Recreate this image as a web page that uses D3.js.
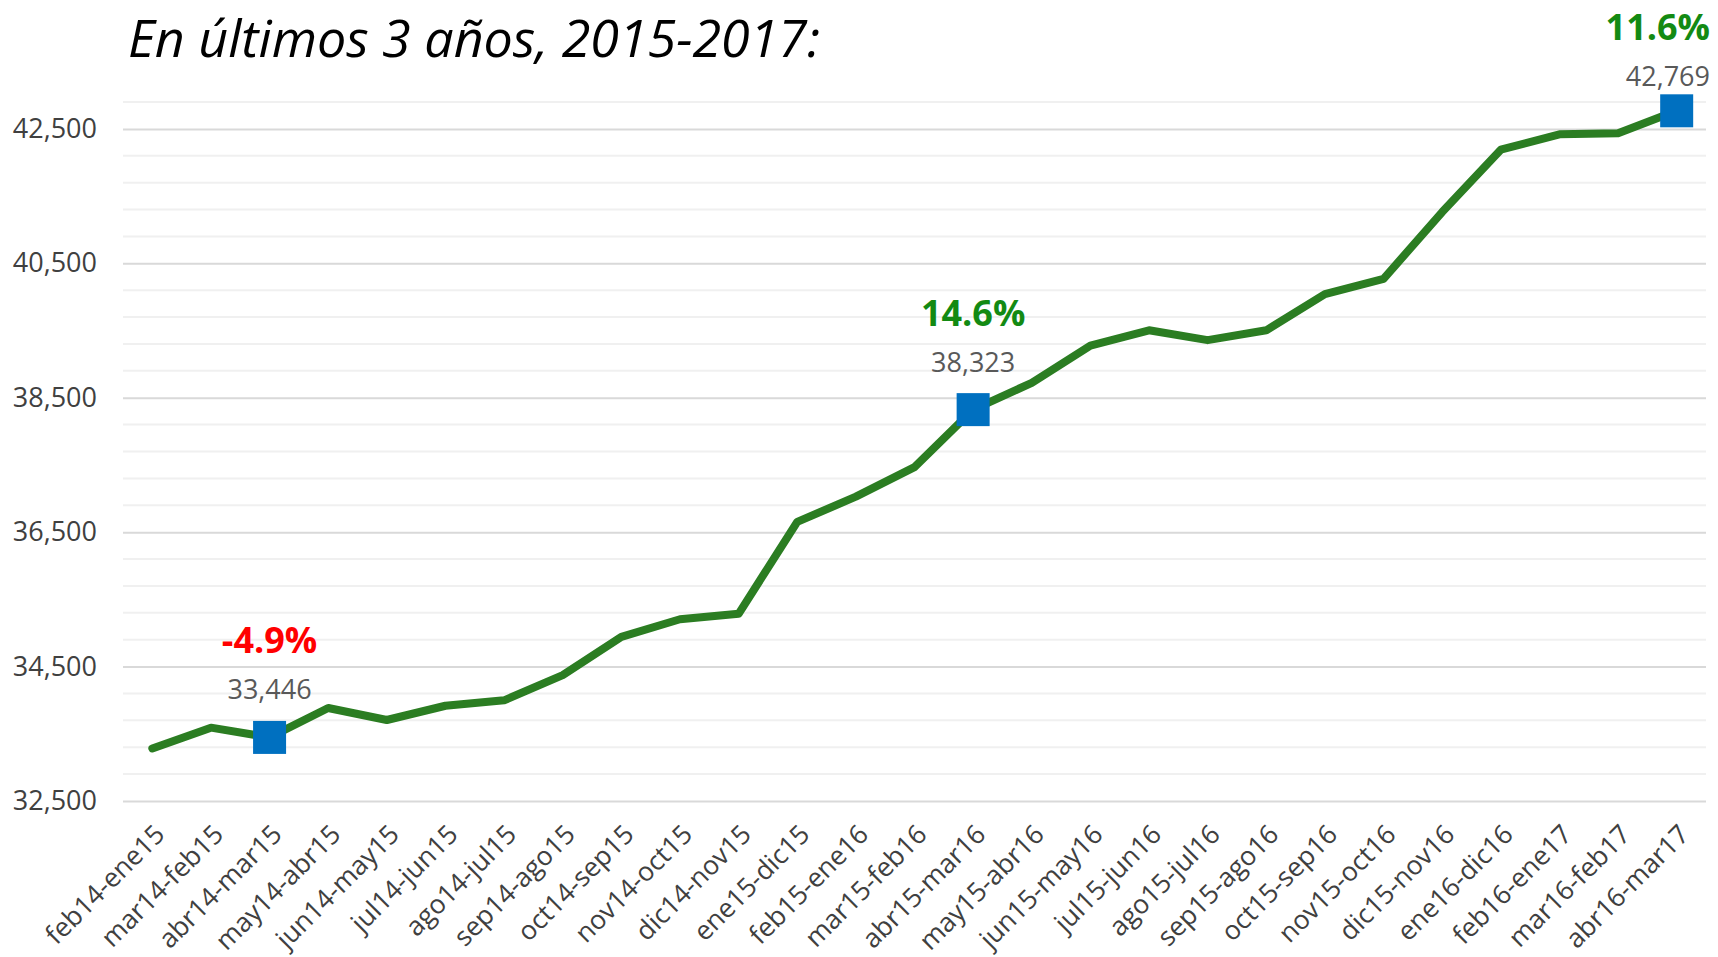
<!DOCTYPE html>
<html>
  <head>
    <meta charset="utf-8">
    <script src="https://cdn.jsdelivr.net/npm/d3@7"></script>
    <style>
      body { margin: 0; background: #fff; }
      svg { display: block; font-family: "Open Sans", sans-serif; }
    </style>
  </head>
  <body>
    <div id="vis"></div>
    <script type="text/javascript">

        const categories = [
          "feb14-ene15", "mar14-feb15", "abr14-mar15", "may14-abr15", "jun14-may15",
          "jul14-jun15", "ago14-jul15", "sep14-ago15", "oct14-sep15", "nov14-oct15",
          "dic14-nov15", "ene15-dic15", "feb15-ene16", "mar15-feb16", "abr15-mar16",
          "may15-abr16", "jun15-may16", "jul15-jun16", "ago15-jul16", "sep15-ago16",
          "oct15-sep16", "nov15-oct16", "dic15-nov16", "ene16-dic16", "feb16-ene17",
          "mar16-feb17", "abr16-mar17"
        ];

        const values = [
          33282, 33591, 33446, 33884, 33705,
          33917, 33998, 34373, 34943, 35204,
          35285, 36653, 37028, 37467, 38323,
          38722, 39275, 39503, 39357, 39503,
          40041, 40269, 41262, 42191, 42419,
          42435, 42769
        ];

        const yTicks = [32500, 34500, 36500, 38500, 40500, 42500];
        const yMinorTicks = d3.range(32500, 42901, 400);

        // highlighted points and the change over the previous 3 years
        const highlightIndex = [2, 14, 26];
        const highlightPct = ["-4.9%", "14.6%", "11.6%"];

        const title = "En últimos 3 años, 2015-2017:";

        const width = 1718, height = 957;
        const svg = d3.select("#vis").append("svg")
            .attr("width", width)
            .attr("height", height);

        const x = d3.scaleBand().domain(categories).range([123, 1706]);
        const y = d3.scaleLinear().domain([32500, 42900]).range([801, 102]);
        const cx = d => x(d) + x.bandwidth() / 2;
        const fmt = d3.format(",");

        // title
        svg.append("text")
            .attr("x", 128)
            .attr("y", 57)
            .attr("font-size", 52)
            .attr("font-style", "italic")
            .attr("fill", "#000")
            .attr("textLength", 692)
            .attr("lengthAdjust", "spacingAndGlyphs")
            .text(title);

        // minor grid
        svg.append("g")
            .selectAll("line")
            .data(yMinorTicks.filter(v => !yTicks.includes(v)))
            .enter().append("line")
            .attr("x1", 123).attr("x2", 1706)
            .attr("y1", d => y(d)).attr("y2", d => y(d))
            .attr("stroke", "#f0f0f0")
            .attr("stroke-width", 2);

        // major grid + y labels
        const yAxis = d3.axisLeft(y)
            .tickValues(yTicks)
            .tickFormat(fmt)
            .tickSize(-(1706 - 123))
            .tickPadding(26);
        const gy = svg.append("g")
            .attr("transform", "translate(123,0)")
            .call(yAxis);
        gy.select(".domain").remove();
        gy.selectAll(".tick line").attr("stroke", "#d9d9d9").attr("stroke-width", 2);
        gy.selectAll(".tick text")
            .attr("font-size", 27)
            .attr("font-family", "Open Sans, sans-serif")
            .attr("fill", "#404040");

        // x labels
        svg.append("g")
            .selectAll("text")
            .data(categories)
            .enter().append("text")
            .attr("transform", d => `translate(${cx(d) + 14},${836}) rotate(-45)`)
            .attr("text-anchor", "end")
            .attr("font-size", 26.5)
            .attr("fill", "#404040")
            .text(d => d);

        // line
        const line = d3.line()
            .x((d, i) => cx(categories[i]))
            .y(d => y(d));
        svg.append("path")
            .datum(values)
            .attr("d", line)
            .attr("fill", "none")
            .attr("stroke", "#2b7d22")
            .attr("stroke-width", 8)
            .attr("stroke-linejoin", "round")
            .attr("stroke-linecap", "round");

        // markers
        const sq = 33;
        svg.append("g")
            .selectAll("rect")
            .data(highlightIndex)
            .enter().append("rect")
            .attr("x", i => cx(categories[i]) - sq / 2)
            .attr("y", i => y(values[i]) - sq / 2)
            .attr("width", sq).attr("height", sq)
            .attr("fill", "#0070c0");

        // labels
        const lab = svg.append("g")
            .selectAll("g")
            .data(highlightIndex)
            .enter().append("g");

        const isLast = i => i === categories.length - 1;

        lab.append("text")
            .attr("x", i => isLast(i) ? 1710 : cx(categories[i]))
            .attr("y", i => isLast(i) ? 86 : y(values[i]) - 38)
            .attr("text-anchor", i => isLast(i) ? "end" : "middle")
            .attr("font-size", 27)
            .attr("fill", "#595959")
            .text(i => fmt(values[i]));

        lab.append("text")
            .attr("x", i => isLast(i) ? 1710 : cx(categories[i]))
            .attr("y", i => isLast(i) ? 40 : y(values[i]) - 84)
            .attr("text-anchor", i => isLast(i) ? "end" : "middle")
            .attr("font-size", 36)
            .attr("font-weight", "bold")
            .attr("fill", (i, k) => highlightPct[k].startsWith("-") ? "#ff0000" : "#138a13")
            .text((i, k) => highlightPct[k]);

    </script>
  </body>
</html>
